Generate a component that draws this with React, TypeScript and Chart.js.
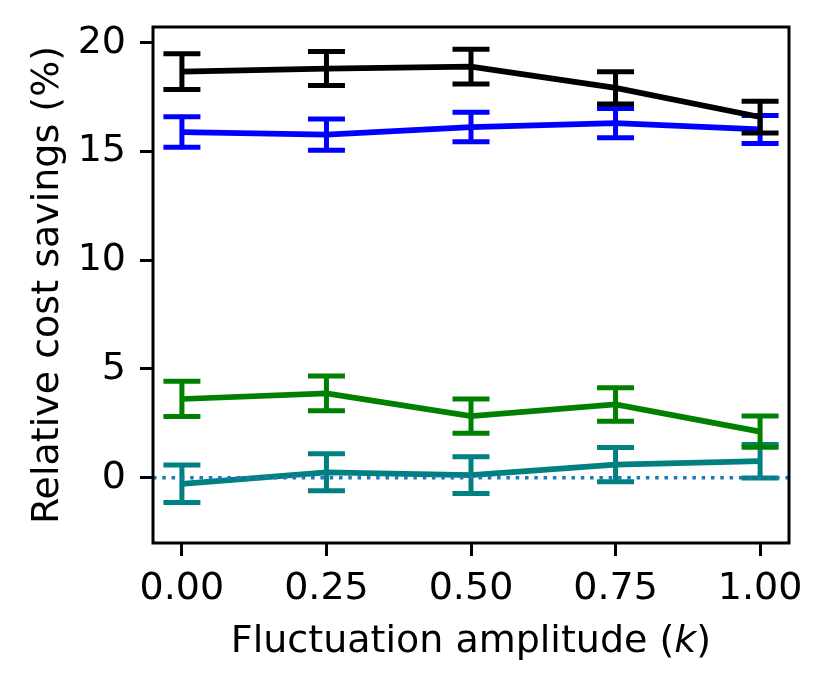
import { useEffect, useRef } from "react";
import { Chart, registerables, Plugin } from "chart.js";

Chart.register(...registerables);

// fluctuation amplitude k
const amplitudes = [0, 0.25, 0.5, 0.75, 1.0];

// mean relative cost savings (%) and error bar half-widths
const blackMean = [18.67, 18.81, 18.9, 17.92, 16.58];
const blackErr = [0.82, 0.78, 0.8, 0.74, 0.73];
const blueMean = [15.89, 15.77, 16.12, 16.3, 16.01];
const blueErr = [0.7, 0.72, 0.68, 0.67, 0.64];
const greenMean = [3.62, 3.88, 2.83, 3.37, 2.12];
const greenErr = [0.81, 0.8, 0.79, 0.77, 0.72];
const tealMean = [-0.28, 0.25, 0.12, 0.6, 0.76];
const tealErr = [0.86, 0.85, 0.85, 0.79, 0.77];

const xTicks = [0, 0.25, 0.5, 0.75, 1.0];
const yTicks = [0, 5, 10, 15, 20];
const zeroLine = 0;

const FONT = "DejaVu Sans";

type Series = { color: string; mean: number[]; err: number[] };
const series: Series[] = [
  { color: "#000000", mean: blackMean, err: blackErr },
  { color: "#0000ff", mean: blueMean, err: blueErr },
  { color: "#008000", mean: greenMean, err: greenErr },
  { color: "#008080", mean: tealMean, err: tealErr },
];

const errorBars: Plugin<"scatter"> = {
  id: "errorBars",
  afterDatasetDraw(chart, args) {
    const s = series[args.index];
    if (!s) return;
    const { ctx } = chart;
    const xs = chart.scales.x;
    const ys = chart.scales.y;
    ctx.save();
    ctx.strokeStyle = s.color;
    ctx.lineWidth = 5;
    ctx.lineCap = "butt";
    const cap = 18.5;
    amplitudes.forEach((a, i) => {
      const px = xs.getPixelForValue(a);
      const top = ys.getPixelForValue(s.mean[i] + s.err[i]);
      const bot = ys.getPixelForValue(s.mean[i] - s.err[i]);
      ctx.beginPath();
      ctx.moveTo(px, top);
      ctx.lineTo(px, bot);
      ctx.moveTo(px - cap, top);
      ctx.lineTo(px + cap, top);
      ctx.moveTo(px - cap, bot);
      ctx.lineTo(px + cap, bot);
      ctx.stroke();
    });
    ctx.restore();
  },
};

const frame: Plugin<"scatter"> = {
  id: "frame",
  afterDatasetsDraw(chart) {
    const { ctx, chartArea } = chart;
    const ys = chart.scales.y;
    ctx.save();
    // dotted zero line
    const y0 = ys.getPixelForValue(zeroLine);
    ctx.strokeStyle = "#1f77b4";
    ctx.lineWidth = 3.5;
    ctx.setLineDash([3.5, 5.8]);
    ctx.beginPath();
    ctx.moveTo(chartArea.left, y0);
    ctx.lineTo(chartArea.right, y0);
    ctx.stroke();
    ctx.setLineDash([]);
    // axes box
    ctx.strokeStyle = "#000";
    ctx.lineWidth = 3;
    ctx.strokeRect(
      chartArea.left,
      chartArea.top,
      chartArea.right - chartArea.left,
      chartArea.bottom - chartArea.top
    );
    ctx.restore();
  },
  afterDraw(chart) {
    const { ctx, chartArea } = chart;
    ctx.save();
    ctx.fillStyle = "#000";
    ctx.textBaseline = "alphabetic";
    // x title with italic k
    const parts: [string, string][] = [
      ["Fluctuation amplitude (", `38px "${FONT}"`],
      ["k", `italic 38px "${FONT}"`],
      [")", `38px "${FONT}"`],
    ];
    let total = 0;
    parts.forEach(([t, f]) => {
      ctx.font = f;
      total += ctx.measureText(t).width;
    });
    let x = (chartArea.left + chartArea.right) / 2 - total / 2;
    ctx.textAlign = "left";
    parts.forEach(([t, f]) => {
      ctx.font = f;
      ctx.fillText(t, x, 652);
      x += ctx.measureText(t).width;
    });
    // y title
    ctx.font = `38px "${FONT}"`;
    ctx.translate(58, (chartArea.top + chartArea.bottom) / 2);
    ctx.rotate(-Math.PI / 2);
    ctx.textAlign = "center";
    ctx.fillText("Relative cost savings (%)", 0, 0);
    ctx.restore();
  },
};

export default function App() {
  const canvasRef = useRef<HTMLCanvasElement | null>(null);

  useEffect(() => {
    const canvas = canvasRef.current;
    if (!canvas) return;
    const chart = new Chart(canvas, {
      type: "scatter",
      data: {
        datasets: series.map((s) => ({
          data: amplitudes.map((a, i) => ({ x: a, y: s.mean[i] })),
          showLine: true,
          borderColor: s.color,
          backgroundColor: s.color,
          borderWidth: 5.7,
          pointRadius: 0,
          tension: 0,
        })),
      },
      options: {
        animation: false,
        responsive: true,
        maintainAspectRatio: false,
        layout: { padding: { top: 27, right: 40, left: 0, bottom: 0 } },
        plugins: {
          legend: { display: false },
          tooltip: { enabled: false },
        },
        scales: {
          x: {
            type: "linear",
            min: -0.05,
            max: 1.05,
            afterBuildTicks: (scale) => {
              scale.ticks = xTicks.map((v) => ({ value: v }));
            },
            afterFit: (scale) => {
              scale.height = 147;
              scale.paddingLeft = 0;
              scale.paddingRight = 0;
            },
            ticks: {
              color: "#000",
              font: { family: FONT, size: 38 },
              padding: 10,
              maxRotation: 0,
              callback: (v) => Number(v).toFixed(2),
            },
            grid: {
              drawOnChartArea: false,
              drawTicks: true,
              tickLength: 13,
              tickWidth: 3,
              tickColor: "#000",
            },
            border: { display: false },
          },
          y: {
            type: "linear",
            min: -3,
            max: 20.72,
            afterBuildTicks: (scale) => {
              scale.ticks = yTicks.map((v) => ({ value: v }));
            },
            afterFit: (scale) => {
              scale.width = 153;
              scale.paddingTop = 0;
              scale.paddingBottom = 0;
            },
            ticks: {
              color: "#000",
              font: { family: FONT, size: 38 },
              padding: 14,
              callback: (v) => String(v),
            },
            grid: {
              drawOnChartArea: false,
              drawTicks: true,
              tickLength: 13,
              tickWidth: 3,
              tickColor: "#000",
            },
            border: { display: false },
          },
        },
      },
      plugins: [errorBars, frame],
    });
    return () => chart.destroy();
  }, []);

  return (
    <div
      style={{
        position: "fixed",
        left: 0,
        top: 0,
        width: 829,
        height: 690,
        background: "#fff",
      }}
    >
      <canvas ref={canvasRef} />
    </div>
  );
}
